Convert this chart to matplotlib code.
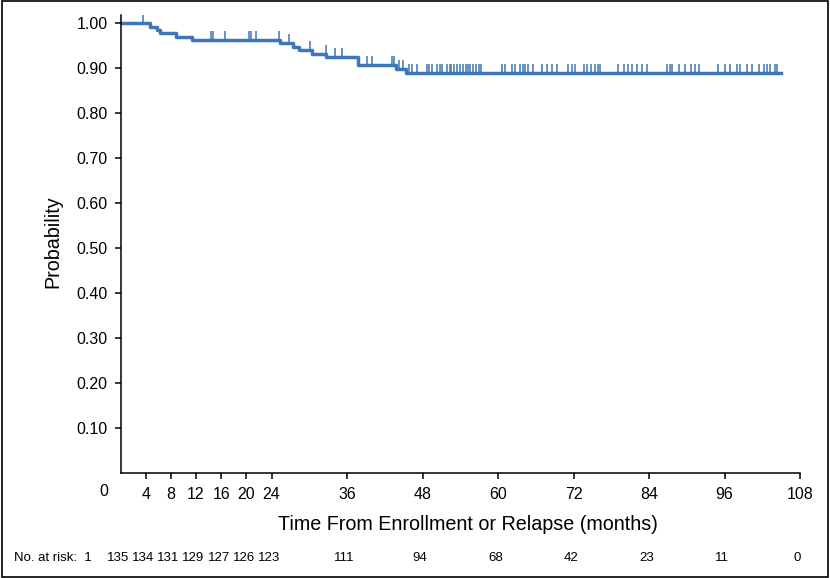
import numpy as np
import matplotlib.pyplot as plt
from matplotlib.patches import Rectangle
from matplotlib.transforms import blended_transform_factory

# Kaplan-Meier steps
step_t = [0, 4.7, 5.75, 6.2, 8.8, 11.4, 25.4, 27.4, 28.4, 30.5, 32.7, 37.8, 43.8, 45.3]
step_p = [1.0, 0.9926, 0.9852, 0.9778, 0.9704, 0.9630, 0.9555, 0.9477, 0.9400,
          0.9322, 0.9243, 0.9082, 0.8991, 0.8900]
end_t = 105.0

censor_t = [3.6, 14.4, 14.75, 16.6, 20.4, 20.7, 21.5, 25.2, 26.8, 30.1, 32.6, 34.1, 35.2,
            39.1, 39.9, 43.1, 43.4, 44.3, 44.9, 45.9, 46.3, 47.2, 48.7, 49.1, 49.5, 50.3,
            50.7, 51.1, 51.9, 52.3, 52.6, 53.0, 53.4, 54.0, 54.4, 54.9, 55.3, 55.6, 56.1,
            56.5, 56.9, 57.3, 60.6, 61.1, 62.2, 62.7, 63.5, 63.9, 64.3, 64.8, 65.6, 67.0,
            67.8, 68.6, 69.3, 71.2, 71.7, 72.3, 73.6, 74.2, 74.8, 75.4, 75.9, 76.2, 79.1,
            80.1, 80.7, 81.3, 82.1, 82.9, 83.7, 86.8, 87.4, 87.7, 88.7, 89.7, 90.7, 91.3,
            91.9, 95.0, 96.1, 96.9, 98.0, 98.5, 99.6, 100.3, 101.4, 102.2, 102.7, 103.2,
            104.0, 104.3]

risk_t = [0, 4, 8, 12, 16, 20, 24, 36, 48, 60, 72, 84, 96, 108]
risk_n = [135, 134, 131, 129, 127, 126, 123, 111, 94, 68, 42, 23, 11, 0]

xticks = [4, 8, 12, 16, 20, 24, 36, 48, 60, 72, 84, 96, 108]
yticks = [0.10, 0.20, 0.30, 0.40, 0.50, 0.60, 0.70, 0.80, 0.90, 1.00]

blue = '#3c77b7'
plt.rcParams['font.family'] = ['Liberation Sans', 'DejaVu Sans']

fig = plt.figure(figsize=(8.3, 5.78), dpi=100)
ax = fig.add_axes([0.1452, 0.1825, 0.8187, 0.7915])

ax.step(step_t + [end_t], step_p + [step_p[-1]], where='post', color=blue, lw=2.5)
idx = np.searchsorted(step_t, censor_t, side='right') - 1
lev = np.array(step_p)[idx]
ax.vlines(censor_t, lev, lev + 0.02, color=blue, lw=1.1)

ax.set_xlim(0, 108)
ax.set_ylim(0, 1.0185)
for s in ['top', 'right']:
    ax.spines[s].set_visible(False)
for s in ['left', 'bottom']:
    ax.spines[s].set_linewidth(1.1)

ax.set_yticks(yticks)
ax.set_yticklabels(['%.2f' % v for v in yticks], fontsize=11.5)
ax.set_xticks(xticks)
ax.set_xticklabels([str(v) for v in xticks], fontsize=11.5)
ax.tick_params(axis='y', length=4.5, width=1.1, pad=4.8)
ax.tick_params(axis='x', length=4.5, width=1.1, pad=6)

trx = blended_transform_factory(ax.transData, ax.transAxes)
ax.text(-2.7, -0.0415, '0', transform=trx, ha='center', va='center',
        fontsize=11.5, clip_on=False)

fig.text(0.564, 1 - 525 / 578, 'Time From Enrollment or Relapse (months)',
         ha='center', va='center', fontsize=14.2)
fig.text(53 / 830, 1 - 242 / 578, 'Probability', rotation=90,
         ha='center', va='center', fontsize=14.2)

trr = blended_transform_factory(ax.transData, fig.transFigure)
fig.text(14 / 830, 1 - 558 / 578, 'No. at risk:  1', ha='left', va='center',
         fontsize=9.5)
for t, n in zip(risk_t, risk_n):
    ax.text(t - 0.4, 1 - 558 / 578, str(n), transform=trr, ha='center', va='center',
            fontsize=9.5, clip_on=False)

fig.patches.append(Rectangle((0.002, 0.002), 0.996, 0.996, transform=fig.transFigure,
                             fill=False, lw=1.2, edgecolor='black'))

fig.savefig('out.png', dpi=100)
